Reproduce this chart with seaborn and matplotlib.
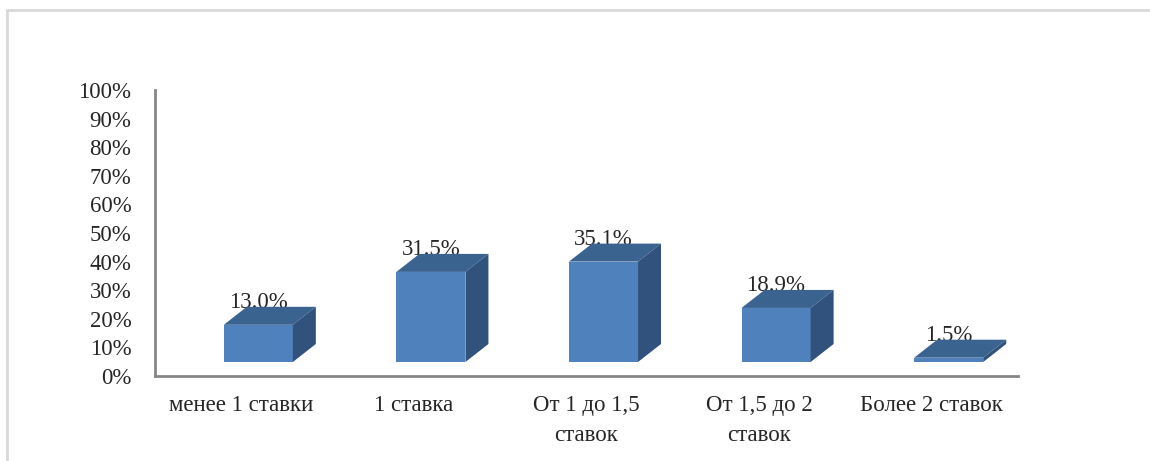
import matplotlib
matplotlib.use('Agg')
import matplotlib.pyplot as plt
import matplotlib.transforms as mtransforms
from matplotlib.patches import Polygon
from matplotlib.lines import Line2D
from matplotlib.ticker import PercentFormatter
import seaborn as sns
import pandas as pd

categories = ["менее 1 ставки", "1 ставка", "От 1 до 1,5\nставок", "От 1,5 до 2\nставок", "Более 2 ставок"]
shares = [0.130, 0.315, 0.351, 0.189, 0.015]
labels = ["13.0%", "31.5%", "35.1%", "18.9%", "1.5%"]

front_color = "#4F81BD"
top_color = "#3B6390"
side_color = "#30527C"
axis_color = "#868686"

sns.set_style("white")
plt.rcParams['font.family'] = ['Liberation Serif', 'DejaVu Serif']

df = pd.DataFrame({"cat": categories, "share": shares})

fig = plt.figure(figsize=(11.5, 4.61), dpi=100)
ax = fig.add_axes([0.1348, 0.1844, 0.7504, 0.6204])

sns.barplot(data=df, x="cat", y="share", color=front_color, saturation=1,
            width=0.4, linewidth=0, ax=ax)

ax.set_xlim(-0.5, 4.5)
ax.set_ylim(0, 1)
ax.set_yticks([i / 10 for i in range(11)])
ax.yaxis.set_major_formatter(PercentFormatter(1.0, decimals=0))
ax.set_xticks([i + 0.5 for i in range(-1, 5)], minor=True)
ax.tick_params(axis='x', which='major', length=0, pad=14, labelsize=16.5)
ax.tick_params(axis='x', which='minor', direction='in', length=7, width=1.5, color=axis_color)
ax.tick_params(axis='y', direction='in', length=7, width=1.5, color=axis_color, pad=17, labelsize=16.5)
for t in ax.get_xticklabels():
    t.set_linespacing(1.55)
ax.set_xlabel("")
ax.set_ylabel("")
for s in ["top", "right"]:
    ax.spines[s].set_visible(False)
for s in ["left", "bottom"]:
    ax.spines[s].set_color(axis_color)
    ax.spines[s].set_linewidth(2)

# 3D look: shift the front faces and add top / side faces
shift = mtransforms.ScaledTranslation(0.17, 0.14, fig.dpi_scale_trans)
dx, dy = 23, 18
ident = mtransforms.IdentityTransform()
for p, lab in zip(ax.patches, labels):
    x0, w, h = p.get_x(), p.get_width(), p.get_height()
    (l, b), (r, t) = ax.transData.transform([(x0, 0), (x0 + w, h)])
    l, r, b, t = l + 17, r + 17, b + 14, t + 14
    p.set_transform(ax.transData + shift)
    p.set_clip_on(False)
    fig.add_artist(Polygon([(l, t), (r, t), (r + dx, t + dy), (l + dx, t + dy)],
                           closed=True, facecolor=top_color, edgecolor="none", transform=ident))
    fig.add_artist(Polygon([(r, b), (r + dx, b + dy), (r + dx, t + dy), (r, t)],
                           closed=True, facecolor=side_color, edgecolor="none", transform=ident))
    ax.annotate(lab, xy=(x0 + w / 2, h), xytext=(12.2, 26), textcoords="offset points",
                ha="center", va="center", fontsize=16.5, annotation_clip=False)

# outer chart frame (partially visible)
fig.add_artist(Line2D([7 / 1150, 7 / 1150], [0, 1 - 10 / 461], color="#D9D9D9", lw=2))
fig.add_artist(Line2D([7 / 1150, 1], [1 - 10 / 461, 1 - 10 / 461], color="#D9D9D9", lw=2))

fig.savefig("out.png", dpi=100)
plt.close()
